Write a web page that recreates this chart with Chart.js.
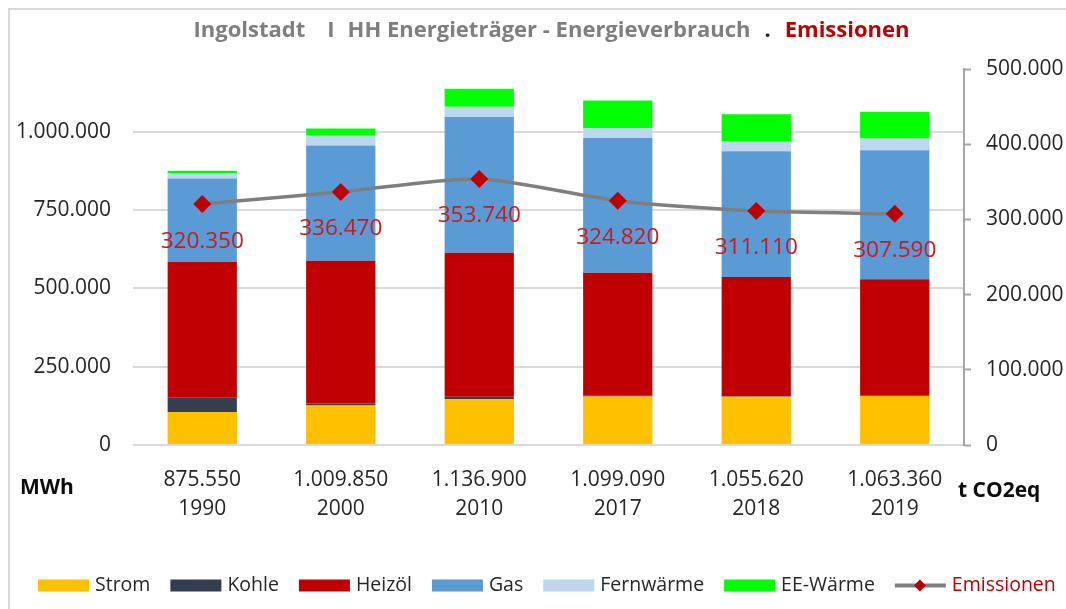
<!DOCTYPE html>
<html>
<head>
<meta charset="utf-8">
<script src="https://cdn.jsdelivr.net/npm/chart.js@4.4.0/dist/chart.umd.min.js"></script>
<style>
  html, body { margin: 0; padding: 0; background: #fff; }
  #wrap { width: 1066px; height: 609px; position: relative; }
</style>
</head>
<body>
<div id="wrap"><canvas id="energyChart"></canvas></div>
<script>
// values (MWh / t CO2eq)
const years = ['1990', '2000', '2010', '2017', '2018', '2019'];
const totals = ['875.550', '1.009.850', '1.136.900', '1.099.090', '1.055.620', '1.063.360'];
const strom = [105300, 126400, 146800, 155100, 154200, 156400];
const kohle = [45600, 6400, 7300, 2000, 1500, 2000];
const heizoel = [433000, 455500, 459600, 392600, 380800, 370300];
const gas = [267000, 367250, 432800, 429990, 401020, 412160];
const fernwaerme = [16000, 33200, 32900, 31900, 31900, 37300];
const eeWaerme = [8650, 21100, 57500, 87500, 86200, 85200];
const emissionen = [320350, 336470, 353740, 324820, 311110, 307590];
const leftTicks = [0, 250000, 500000, 750000, 1000000];
const rightTicks = [0, 100000, 200000, 300000, 400000, 500000];

const FONT = "'Open Sans', 'Noto Sans', sans-serif";

function fmt(v) {
    return String(Math.round(v)).replace(/\B(?=(\d{3})+(?!\d))/g, '.');
}

// white background + light frame (top and left edges visible in reference)
const framePlugin = {
    id: 'frame',
    beforeDraw(chart) {
        const c = chart.ctx;
        c.save();
        c.fillStyle = '#fff';
        c.fillRect(0, 0, chart.width, chart.height);
        c.strokeStyle = '#d9d9d9';
        c.lineWidth = 2;
        c.beginPath();
        c.moveTo(9, chart.height);
        c.lineTo(9, 9);
        c.lineTo(chart.width, 9);
        c.stroke();
        c.restore();
    }
};

// two-colour title and the unit labels
const textPlugin = {
    id: 'texts',
    afterDraw(chart) {
        const c = chart.ctx;
        c.save();
        c.font = 'bold 22px ' + FONT;
        c.textBaseline = 'alphabetic';
        const parts = [
            ['Ingolstadt', '#7f7f7f', 22],
            ['I', '#7f7f7f', 13],
            ['HH Energieträger - Energieverbrauch', '#7f7f7f', 14],
            ['.', '#262626', 14],
            ['Emissionen', '#c00000', 0]
        ];
        let w = 0;
        parts.forEach(p => { w += c.measureText(p[0]).width + p[2]; });
        let x = (chart.chartArea.left + chart.chartArea.right) / 2 + 3 - w / 2;
        parts.forEach(p => {
            c.fillStyle = p[1];
            c.fillText(p[0], x, 37);
            x += c.measureText(p[0]).width + p[2];
        });

        c.font = 'bold 21px ' + FONT;
        c.fillStyle = '#0d0d0d';
        c.textBaseline = 'middle';
        c.fillText('MWh', 20, 488);
        c.fillText('t CO2eq', 958, 491);
        c.restore();
    }
};

// emission values under the diamonds
const valueLabels = {
    id: 'valueLabels',
    afterDatasetsDraw(chart) {
        const meta = chart.getDatasetMeta(6);
        const c = chart.ctx;
        c.save();
        c.font = '22.5px ' + FONT;
        c.fillStyle = '#cc1a1a';
        c.textAlign = 'center';
        c.textBaseline = 'middle';
        meta.data.forEach((pt, i) => {
            c.fillText(fmt(emissionen[i]), pt.x, pt.y + 37);
        });
        c.restore();
    }
};

// legend row at the bottom
const legendPlugin = {
    id: 'bottomLegend',
    afterDraw(chart) {
        const c = chart.ctx;
        const y = 585.5;
        c.save();
        c.font = '19.5px ' + FONT;
        c.textBaseline = 'middle';
        let x = 38;
        chart.data.datasets.forEach(ds => {
            if (ds.type === 'line') {
                c.strokeStyle = ds.borderColor;
                c.lineWidth = 4;
                c.beginPath();
                c.moveTo(x, y);
                c.lineTo(x + 51, y);
                c.stroke();
                c.fillStyle = ds.pointBackgroundColor;
                c.beginPath();
                c.moveTo(x + 25, y - 6);
                c.lineTo(x + 31, y);
                c.lineTo(x + 25, y + 6);
                c.lineTo(x + 19, y);
                c.closePath();
                c.fill();
                c.fillStyle = '#c00000';
            } else {
                c.fillStyle = ds.backgroundColor;
                c.fillRect(x, y - 6, 51, 12);
                c.fillStyle = '#262626';
            }
            x += 57;
            c.fillText(ds.label, x, y);
            x += c.measureText(ds.label).width + 20;
        });
        c.restore();
    }
};

const ctx = document.getElementById('energyChart').getContext('2d');
const barDefaults = { type: 'bar', yAxisID: 'y', stack: 'mwh', borderWidth: 0, order: 2 };

new Chart(ctx, {
    data: {
        labels: years.map((y, i) => [totals[i], y]),
        datasets: [
            Object.assign({ label: 'Strom', data: strom, backgroundColor: '#ffc000' }, barDefaults),
            Object.assign({ label: 'Kohle', data: kohle, backgroundColor: '#333f50' }, barDefaults),
            Object.assign({ label: 'Heizöl', data: heizoel, backgroundColor: '#c00000' }, barDefaults),
            Object.assign({ label: 'Gas', data: gas, backgroundColor: '#5b9bd5' }, barDefaults),
            Object.assign({ label: 'Fernwärme', data: fernwaerme, backgroundColor: '#bdd7ee' }, barDefaults),
            Object.assign({ label: 'EE-Wärme', data: eeWaerme, backgroundColor: '#00ff00' }, barDefaults),
            {
                type: 'line',
                label: 'Emissionen',
                data: emissionen,
                yAxisID: 'y1',
                order: 1,
                borderColor: '#7f7f7f',
                borderWidth: 3.5,
                tension: 0.25,
                pointStyle: 'rectRot',
                pointRadius: 9,
                pointBackgroundColor: '#c00000',
                pointBorderColor: '#c00000',
                pointBorderWidth: 0
            }
        ]
    },
    options: {
        responsive: true,
        maintainAspectRatio: false,
        animation: false,
        layout: { padding: { top: 69, left: 0, right: 0, bottom: 0 } },
        datasets: {
            bar: { barPercentage: 0.5, categoryPercentage: 1 }
        },
        plugins: {
            legend: { display: false },
            title: { display: false },
            tooltip: { enabled: false }
        },
        scales: {
            x: {
                stacked: true,
                grid: { display: false },
                border: { display: false },
                ticks: {
                    color: '#262626',
                    font: { family: FONT, size: 21, lineHeight: 1.38 },
                    padding: 13,
                    maxRotation: 0
                },
                afterFit(scale) { scale.height = 164; }
            },
            y: {
                stacked: true,
                position: 'left',
                min: 0,
                max: 1200000,
                grid: { color: '#d9d9d9', lineWidth: 2, drawTicks: false },
                border: { display: false },
                ticks: {
                    color: '#262626',
                    font: { family: FONT, size: 21 },
                    padding: 22,
                    callback: v => fmt(v)
                },
                afterBuildTicks(scale) { scale.ticks = leftTicks.map(v => ({ value: v })); },
                afterFit(scale) { scale.width = 133; }
            },
            y1: {
                position: 'right',
                min: 0,
                max: 500000,
                grid: { drawOnChartArea: false, drawTicks: true, tickLength: 7, tickColor: '#a6a6a6', tickWidth: 2 },
                border: { display: true, color: '#a6a6a6', width: 2 },
                ticks: {
                    color: '#262626',
                    font: { family: FONT, size: 21 },
                    padding: 15,
                    callback: v => fmt(v)
                },
                afterBuildTicks(scale) { scale.ticks = rightTicks.map(v => ({ value: v })); },
                afterFit(scale) { scale.width = 102; }
            }
        }
    },
    plugins: [framePlugin, valueLabels, textPlugin, legendPlugin]
});
</script>
</body>
</html>
